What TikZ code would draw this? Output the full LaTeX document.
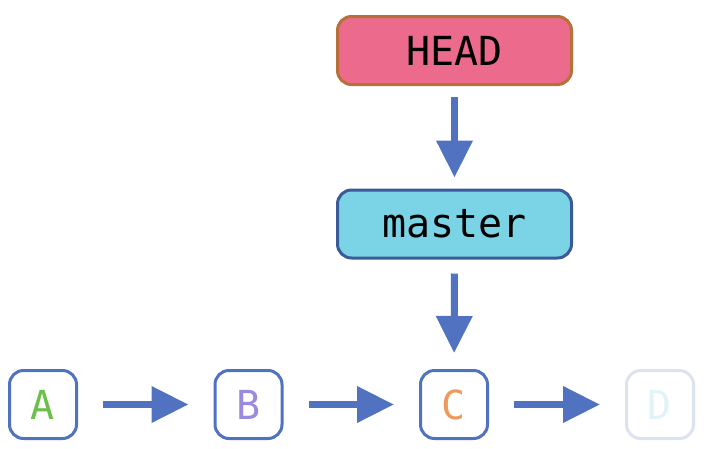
\documentclass[tikz,border=0pt]{standalone}
\usepackage{fontspec}
\setmonofont{DejaVu Sans Mono}
\usetikzlibrary{arrows.meta}
\definecolor{headfill}{HTML}{EC6B8C}
\definecolor{headline}{HTML}{B8703A}
\definecolor{masterfill}{HTML}{7BD3E6}
\definecolor{masterline}{HTML}{3A5A9A}
\definecolor{gitblue}{HTML}{5072C0}
\definecolor{commitA}{HTML}{6CC04A}
\definecolor{commitB}{HTML}{9A8AE0}
\definecolor{commitC}{HTML}{EE9A5E}
\definecolor{commitD}{HTML}{E0F4F8}
\definecolor{ghostline}{HTML}{DCE3F0}
\begin{document}
\begin{tikzpicture}[x=1pt,y=-1pt,
  reflabel/.style={draw, line width=3pt, rounded corners=14pt, minimum width=234pt, minimum height=68pt, inner sep=0pt, font=\ttfamily\fontsize{40}{40}\selectfont},
  commit/.style={draw=gitblue, line width=3pt, rounded corners=14pt, minimum width=67pt, minimum height=68pt, inner sep=0pt, font=\ttfamily\fontsize{40}{40}\selectfont},
  move/.style={-{Triangle[length=37pt,width=35pt]}, line width=7pt, gitblue}]
\useasboundingbox (0,0) rectangle (718,448);
\node[reflabel, fill=headfill, draw=headline] (head) at (454.5,50.5) {HEAD};
\node[reflabel, fill=masterfill, draw=masterline] (master) at (454.5,224) {master};
\node[commit, text=commitA] (a) at (43,404.5) {A};
\node[commit, text=commitB] (b) at (248.5,404.5) {B};
\node[commit, text=commitC] (c) at (454,404.5) {C};
\node[commit, draw=ghostline, text=commitD] (d) at (660,404.5) {D};

\draw[move, shorten <=11pt, shorten >=11pt] (head) -- (master);
\draw[move, shorten <=14pt, shorten >=16pt] (master) -- (c);
\draw[move, shorten <=25pt, shorten >=25pt] (a) -- (b);
\draw[move, shorten <=25pt, shorten >=25pt] (b) -- (c);
\draw[move, shorten <=25pt, shorten >=25pt] (c) -- (d);
\end{tikzpicture}
\end{document}
